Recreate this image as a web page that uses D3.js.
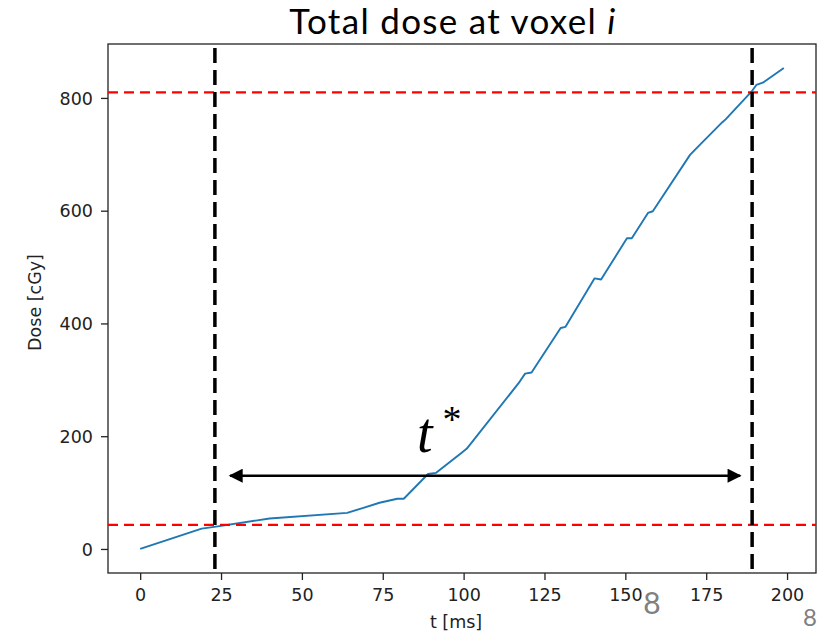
<!DOCTYPE html>
<html>
<head>
<meta charset="utf-8">
<script src="https://cdn.jsdelivr.net/npm/d3@7"></script>
<style>
  html, body { margin: 0; padding: 0; background: #fff; }
  svg { display: block; }
</style>
</head>
<body>
<svg id="chart" width="823" height="634"></svg>
<script>
// Cumulative dose at one voxel over time
const timeMs = [0, 19, 24, 40, 64, 69, 74, 79.5, 81.5, 89, 91.5, 99.5, 101, 117, 119, 121,
  130, 131.5, 140.5, 142.5, 150.5, 152, 157, 158.5, 170, 171.5, 180, 181, 189, 190.5, 192.5, 199];
const doseCGy = [0, 36, 40, 54, 64, 73, 82, 89, 89, 133, 135, 171, 178, 294, 311, 313,
  392, 394, 480, 478, 551, 551, 596, 599, 699, 708, 757, 762, 811, 823, 827, 853];

// Threshold levels and the times they are crossed
const doseThresholds = [42.6, 810];
const crossingTimes = [23.1, 189.2];
// Double arrow marking the interval t*
const arrowSpan = [27.8, 185.5];
const arrowDose = 130;

const xTicks = [0, 25, 50, 75, 100, 125, 150, 175, 200];
const yTicks = [0, 200, 400, 600, 800];

const svg = d3.select("#chart");
const box = { left: 108, right: 816, top: 44, bottom: 573 };

const tMax = d3.max(timeMs), dMax = d3.max(doseCGy);
const x = d3.scaleLinear()
  .domain([-0.05 * tMax, tMax * 1.05])
  .range([box.left, box.right]);
const y = d3.scaleLinear()
  .domain([-0.05 * dMax, dMax * 1.05])
  .range([box.bottom, box.top]);

const tickFont = "'DejaVu Sans', sans-serif";

// Axes
const xAxis = svg.append("g")
  .attr("transform", `translate(0,${box.bottom})`)
  .call(d3.axisBottom(x).tickValues(xTicks).tickSize(7).tickPadding(9).tickSizeOuter(0));
const yAxis = svg.append("g")
  .attr("transform", `translate(${box.left},0)`)
  .call(d3.axisLeft(y).tickValues(yTicks).tickSize(7).tickPadding(8).tickSizeOuter(0));
[xAxis, yAxis].forEach(g => {
  g.select(".domain").remove();
  g.selectAll(".tick line").attr("stroke", "#222").attr("stroke-width", 1.3);
  g.selectAll(".tick text").attr("fill", "#222")
    .style("font-family", tickFont).style("font-size", "17.5px");
});
yAxis.selectAll(".tick text").attr("dy", "0.36em");

// Frame
svg.append("rect")
  .attr("x", box.left).attr("y", box.top)
  .attr("width", box.right - box.left).attr("height", box.bottom - box.top)
  .attr("fill", "none").attr("stroke", "#222").attr("stroke-width", 1.3);

const plot = svg.append("g");

// Dose curve
plot.append("path")
  .datum(timeMs.map((t, i) => [t, doseCGy[i]]))
  .attr("fill", "none")
  .attr("stroke", "#1f77b4")
  .attr("stroke-width", 1.9)
  .attr("stroke-linejoin", "round")
  .attr("d", d3.line().x(d => x(d[0])).y(d => y(d[1])));

// Threshold lines
plot.selectAll(".thr")
  .data(doseThresholds)
  .join("line")
  .attr("x1", box.left).attr("x2", box.right)
  .attr("y1", d => y(d)).attr("y2", d => y(d))
  .attr("stroke", "#ff0000").attr("stroke-width", 2.2)
  .attr("stroke-dasharray", "10,6");

// Crossing times
plot.selectAll(".cross")
  .data(crossingTimes)
  .join("line")
  .attr("x1", d => x(d)).attr("x2", d => x(d))
  .attr("y1", box.top + 4).attr("y2", box.bottom)
  .attr("stroke", "#000").attr("stroke-width", 3.5)
  .attr("stroke-dasharray", "15,7");

// Interval arrow
const defs = svg.append("defs");
defs.append("marker")
  .attr("id", "head")
  .attr("viewBox", "0 0 10 10")
  .attr("refX", 9).attr("refY", 5)
  .attr("markerUnits", "userSpaceOnUse")
  .attr("markerWidth", 16).attr("markerHeight", 14)
  .attr("orient", "auto-start-reverse")
  .append("path").attr("d", "M0,0 L10,5 L0,10 Z").attr("fill", "#000");

plot.append("line")
  .attr("x1", x(arrowSpan[0])).attr("x2", x(arrowSpan[1]))
  .attr("y1", y(arrowDose)).attr("y2", y(arrowDose))
  .attr("stroke", "#000").attr("stroke-width", 2.5)
  .attr("marker-start", "url(#head)")
  .attr("marker-end", "url(#head)");

// t* label
const tLabel = svg.append("text")
  .attr("x", 417).attr("y", 452)
  .style("font-family", "'Liberation Serif', serif")
  .style("font-style", "italic")
  .style("font-size", "56px")
  .attr("fill", "#000");
tLabel.append("tspan").text("t");
tLabel.append("tspan")
  .attr("dx", 10).attr("dy", -20)
  .style("font-style", "normal")
  .style("font-size", "38px")
  .text("*");

// Title
const title = svg.append("text")
  .attr("x", 453).attr("y", 34)
  .attr("text-anchor", "middle")
  .style("font-family", "Lato, sans-serif")
  .style("font-size", "35px")
  .style("letter-spacing", "1.3px")
  .attr("fill", "#000");
title.append("tspan").text("Total dose at voxel ");
title.append("tspan").style("font-style", "italic").text("i");

// Axis labels
svg.append("text")
  .attr("x", 456).attr("y", 628)
  .attr("text-anchor", "middle")
  .style("font-family", tickFont).style("font-size", "17.5px")
  .attr("fill", "#222")
  .text("t [ms]");
svg.append("text")
  .attr("transform", `translate(41,${(box.top + box.bottom) / 2 - 6}) rotate(-90)`)
  .attr("text-anchor", "middle")
  .style("font-family", tickFont).style("font-size", "17.5px")
  .attr("fill", "#222")
  .text("Dose [cGy]");

// Page numbers
svg.append("text")
  .attr("x", 652).attr("y", 614)
  .attr("text-anchor", "middle")
  .style("font-family", "Lato, sans-serif").style("font-size", "30px")
  .attr("fill", "#808080")
  .text("8");
svg.append("text")
  .attr("x", 817).attr("y", 626)
  .attr("text-anchor", "end")
  .style("font-family", "Lato, sans-serif").style("font-size", "24px")
  .attr("fill", "#808080")
  .text("8");
</script>
</body>
</html>
